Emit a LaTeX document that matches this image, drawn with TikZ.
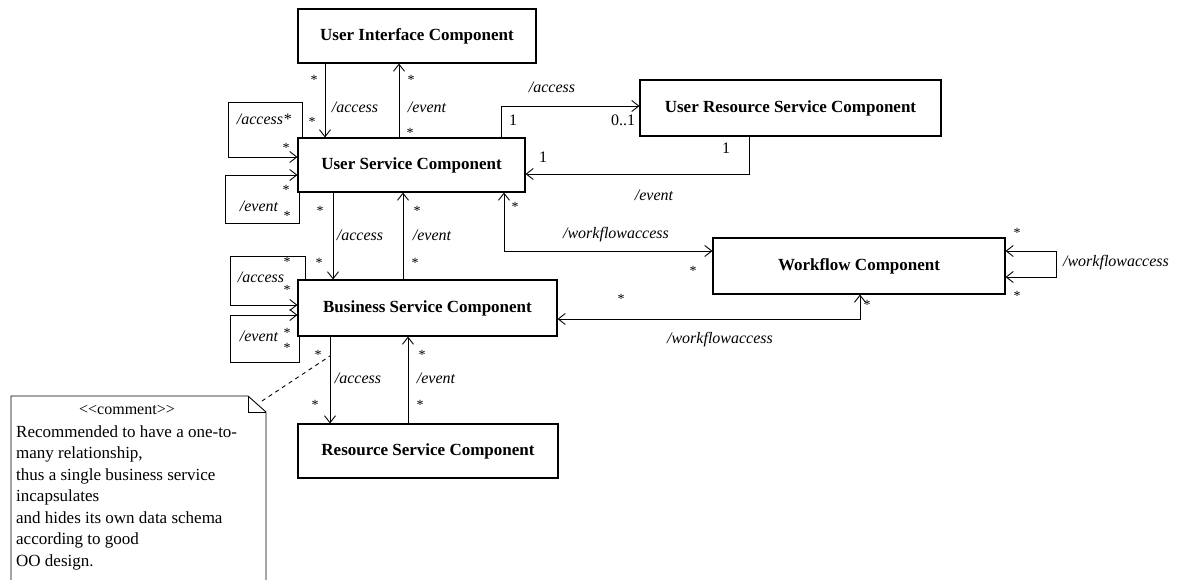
\documentclass[tikz,border=0pt]{standalone}
\usepackage{fontspec}
\setmainfont{Liberation Serif}
\usetikzlibrary{arrows.meta,calc}

\begin{document}
\begin{tikzpicture}[x=1pt,y=-1pt,
  comp/.style={draw,line width=1.1pt,inner sep=0pt,font=\fontsize{17}{20}\selectfont\bfseries},
  role/.style={inner sep=0pt,font=\fontsize{16}{19}\selectfont\itshape},
  mult/.style={inner sep=0pt,font=\fontsize{16}{19}\selectfont},
  star/.style={inner sep=0pt,font=\fontsize{14}{16}\selectfont,yshift=-2pt},
  link/.style={line width=0.9pt},
  nav/.style={link,-{Straight Barb[length=7pt,width=11pt]}},
  bnav/.style={link,{Straight Barb[length=7pt,width=11pt]}-{Straight Barb[length=7pt,width=11pt]}},
  ]
\useasboundingbox (0,0) rectangle (1184,579);

% components
\node[comp,minimum width=238pt,minimum height=54pt] (ui)   at (417,36)    {User Interface Component};
\node[comp,minimum width=227pt,minimum height=54pt] (usc)  at (411.5,165) {User Service Component};
\node[comp,minimum width=301pt,minimum height=56pt] (ursc) at (790.5,108) {User Resource Service Component};
\node[comp,minimum width=259pt,minimum height=56pt] (bsc)  at (427.5,308) {Business Service Component};
\node[comp,minimum width=260pt,minimum height=54pt] (rsc)  at (428,451)   {Resource Service Component};
\node[comp,minimum width=292pt,minimum height=56pt] (wc)   at (859,266)   {Workflow Component};

% vertical associations
\draw[nav] (ui.south -| 325,0) -- (usc.north -| 325,0);
\draw[nav] (usc.north -| 399,0) -- (ui.south -| 399,0);
\draw[nav] (usc.south -| 333,0) -- (bsc.north -| 333,0);
\draw[nav] (bsc.north -| 403,0) -- (usc.south -| 403,0);
\draw[nav] (bsc.south -| 330,0) -- (rsc.north -| 330,0);
\draw[nav] (rsc.north -| 408,0) -- (bsc.south -| 408,0);

% user resource service links
\draw[nav] (usc.north -| 501,0) |- (ursc.west |- 0,106);
\draw[nav] (ursc.south -| 749,0) |- (usc.east |- 0,174);

% workflow links
\draw[bnav] (usc.south -| 504,0) |- (wc.west |- 0,251);
\draw[bnav] (wc.south -| 860,0) |- (bsc.east |- 0,319);
\draw[bnav] (wc.east |- 0,251) -- (1056,251) -- (1056,277) -- (wc.east |- 0,277);

% self associations
\draw[nav] (usc.north -| 302,0) -- (302,102) -- (228,102) -- (228,157) -- (usc.west |- 0,157);
\draw[nav] (usc.south -| 299,0) -- (299,223) -- (225,223) -- (225,175) -- (usc.west |- 0,175);
\draw[nav] (bsc.north -| 305,0) -- (305,256) -- (230,256) -- (230,305) -- (bsc.west |- 0,305);
\draw[nav] (bsc.south -| 299,0) -- (299,362) -- (230,362) -- (230,315) -- (bsc.west |- 0,315);

% comment note
\draw[link] (11,585) -- (11,396) -- (248,396) -- (266,412) -- (266,585);
\draw[link] (248,396) -- (248,412) -- (266,412);
\coordinate (fold) at (262,401);
\coordinate (tie) at (330,356);
\draw[link,dash pattern=on 4pt off 4pt] (fold) -- (tie);
\node[inner sep=0pt,font=\fontsize{16}{20}\selectfont] (stereo) at (127,410) {{<}{<}comment{>}{>}};
\node[anchor=north west,align=left,inner sep=0pt,font=\fontsize{17}{21.5}\selectfont] (notetext) at (16,425)
  {Recommended to have a one-to-\\many relationship,\\thus a single business service\\incapsulates\\and hides its own data schema\\according to good\\OO design.};

% role names
\node[role] (r1)  at (355,107)  {/access};
\node[role] (r2)  at (427,107)  {/event};
\node[role] (r3)  at (264,119)  {/access*};
\node[role] (r4)  at (259,206)  {/event};
\node[role] (r5)  at (360,235)  {/access};
\node[role] (r6)  at (432,235)  {/event};
\node[role] (r7)  at (261,277)  {/access};
\node[role] (r8)  at (259,336)  {/event};
\node[role] (r9)  at (358,378)  {/access};
\node[role] (r10) at (436,378)  {/event};
\node[role] (r11) at (552,87)   {/access};
\node[role] (r12) at (654,195)  {/event};
\node[role] (r13) at (616,235)  {/workflowaccess};
\node[role] (r14) at (720,340)  {/workflowaccess};
\node[role] (r15) at (1116,263) {/workflowaccess};

% multiplicities
\node[star] (m1)  at (314,78)  {*};
\node[star] (m2)  at (411,78)  {*};
\node[star] (m3)  at (410,131) {*};
\node[star] (m4)  at (312,120) {*};
\node[star] (m5)  at (286,146) {*};
\node[star] (m6)  at (286,188) {*};
\node[star] (m7)  at (287,214) {*};
\node[star] (m8)  at (320,209) {*};
\node[star] (m9)  at (417,209) {*};
\node[star] (m10) at (415,261) {*};
\node[star] (m11) at (319,261) {*};
\node[star] (m12) at (515,205) {*};
\node[star] (m13) at (287,260) {*};
\node[star] (m14) at (287,288) {*};
\node[star] (m15) at (287,331) {*};
\node[star] (m16) at (287,346) {*};
\node[star] (m17) at (318,353) {*};
\node[star] (m18) at (422,353) {*};
\node[star] (m19) at (315,403) {*};
\node[star] (m20) at (420,403) {*};
\node[mult] (m21) at (513,120) {1};
\node[mult] (m22) at (623,120) {0..1};
\node[mult] (m23) at (543,157) {1};
\node[mult] (m24) at (726,148) {1};
\node[star] (m25) at (693,269) {*};
\node[star] (m26) at (621,297) {*};
\node[star] (m27) at (867,303) {*};
\node[star] (m28) at (1017,231) {*};
\node[star] (m29) at (1017,294) {*};
\end{tikzpicture}
\end{document}
